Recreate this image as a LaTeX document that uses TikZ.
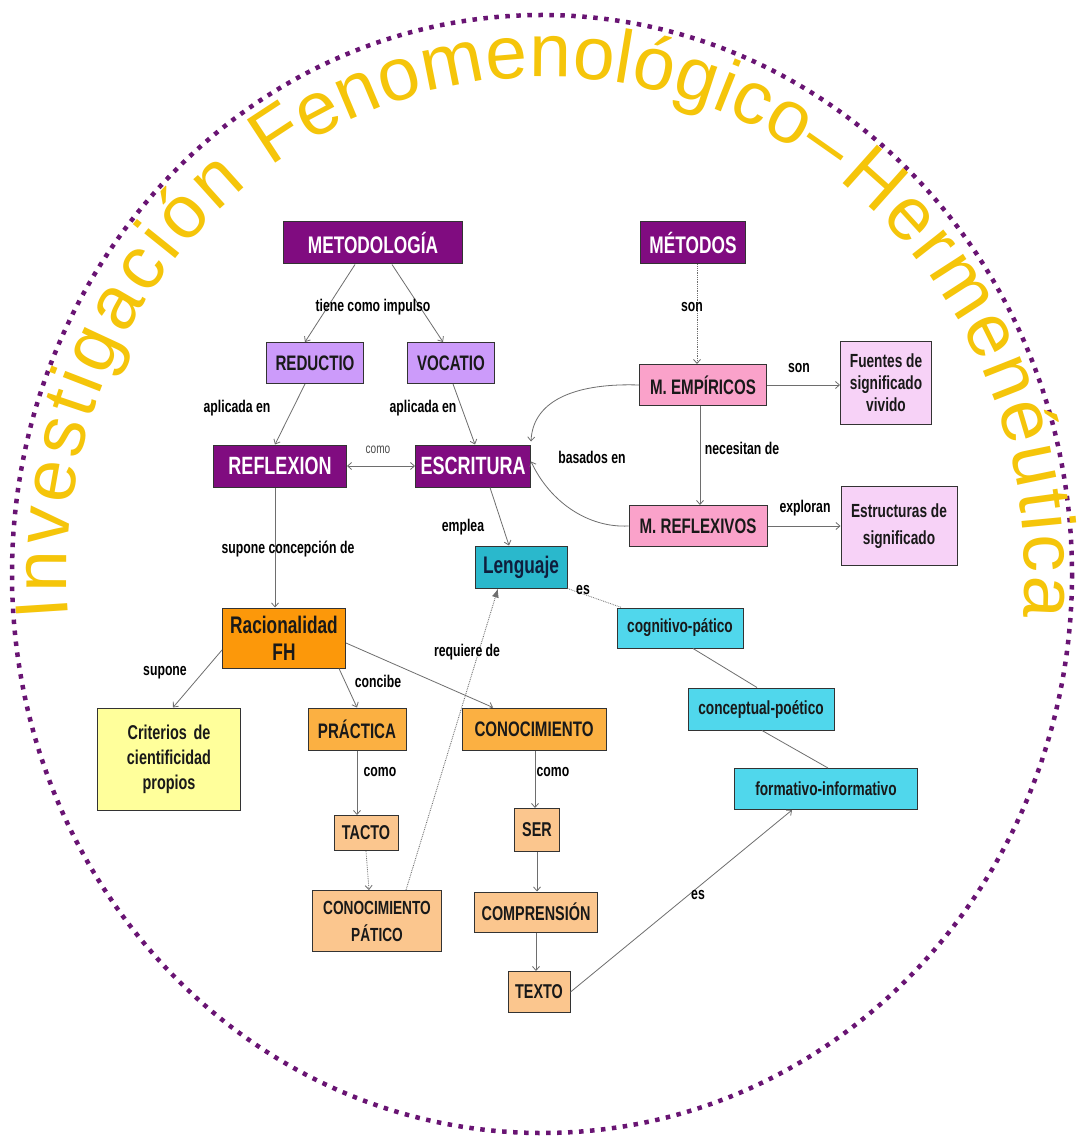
\documentclass[tikz,border=0pt]{standalone}
\usepackage{fontspec}
\setmainfont{Liberation Sans}
\newfontfamily\cond[FakeStretch=0.72]{Liberation Sans}
\newfontfamily\tfont{Liberation Sans}
\usetikzlibrary{arrows.meta,decorations.text}
\definecolor{mpurple}{RGB}{128,12,128}
\definecolor{lav}{RGB}{204,155,250}
\definecolor{mpink}{RGB}{250,162,202}
\definecolor{lpink}{RGB}{247,210,247}
\definecolor{teal}{RGB}{42,184,204}
\definecolor{lcyan}{RGB}{80,215,236}
\definecolor{orng}{RGB}{252,152,10}
\definecolor{lorng}{RGB}{251,176,66}
\definecolor{peach}{RGB}{251,198,142}
\definecolor{lyel}{RGB}{255,255,155}
\definecolor{titley}{RGB}{245,197,10}
\definecolor{dotc}{RGB}{105,20,115}
\definecolor{linec}{RGB}{110,110,110}
\newcommand\fsz[2]{\fontsize{#1}{#2}\selectfont}
\begin{document}
\begin{tikzpicture}[x=1pt,y=-1pt,
  box/.style={draw=black!80, line width=1pt, inner sep=1pt, align=center, text=black!90},
  purp/.style={box, fill=mpurple, text=white},
  lavb/.style={box, fill=lav},
  pinkb/.style={box, fill=mpink},
  lpinkb/.style={box, fill=lpink},
  tealb/.style={box, fill=teal, text={rgb,255:red,15;green,30;blue,60}},
  cyanb/.style={box, fill=lcyan},
  orb/.style={box, fill=orng},
  lorb/.style={box, fill=lorng},
  peachb/.style={box, fill=peach},
  yelb/.style={box, fill=lyel},
  lab/.style={font=\cond\bfseries\fsz{17}{19}, text=black, inner sep=1pt},
  conn/.style={draw=linec, line width=0.8pt},
  arr/.style={conn, -{Straight Barb[length=4pt,width=7pt]}},
  dotarr/.style={arr, densely dotted},
  titlearc/.style={decorate, decoration={text along path, text color=titley,
     text={|\tfont\fsz{75}{75}|#1}, text align=fit to path}}
]
\useasboundingbox (0,0) rectangle (1076,1139);
\fill[white] (0,0) rectangle (1076,1139);

% dotted frame
\draw[dotc, line width=4.5pt, dash pattern=on 4.5pt off 6.5pt] (542,574) ellipse [x radius=530, y radius=559];

% title along arc
\path[titlearc={Investigación}]
   ([shift={(175:479 and 497)}]546,574) arc[start angle=175, end angle=231.5, x radius=479, y radius=497];
\path[titlearc={Fenomenológico–}]
   ([shift={(235:479 and 497)}]546,574) arc[start angle=235, end angle=306.5, x radius=479, y radius=497];
\path[titlearc={Hermenéutica}]
   ([shift={(307.5:479 and 497)}]546,574) arc[start angle=307.5, end angle=365, x radius=479, y radius=497];

% nodes
\node[purp, minimum width=179, minimum height=42, font=\cond\bfseries\fsz{24}{26}] (meto) at (373,243) {METODOLOGÍA};
\node[purp, minimum width=105, minimum height=42, font=\cond\bfseries\fsz{24}{26}] (metodos) at (693,243) {MÉTODOS};
\node[lavb, minimum width=97, minimum height=41, font=\cond\bfseries\fsz{21}{23}] (reductio) at (315,363) {REDUCTIO};
\node[lavb, minimum width=87, minimum height=41, font=\cond\bfseries\fsz{21}{23}] (vocatio) at (451,363) {VOCATIO};
\node[purp, minimum width=133, minimum height=42, font=\cond\bfseries\fsz{25}{27}] (reflexion) at (280,466) {REFLEXION};
\node[purp, minimum width=115, minimum height=42, font=\cond\bfseries\fsz{25}{27}] (escritura) at (473,466) {ESCRITURA};
\node[pinkb, minimum width=127, minimum height=41, font=\cond\bfseries\fsz{21}{23}] (emp) at (703,385) {M. EMPÍRICOS};
\node[lpinkb, minimum width=91, minimum height=83, font=\cond\bfseries\fsz{19}{22}] (fuentes) at (886,383) {Fuentes de\\significado\\vivido};
\node[pinkb, minimum width=138, minimum height=41, font=\cond\bfseries\fsz{21}{23}] (refl) at (698,526) {M. REFLEXIVOS};
\node[lpinkb, minimum width=116, minimum height=79, font=\cond\bfseries\fsz{19}{27}] (estr) at (899,526) {Estructuras de\\significado};
\node[tealb, minimum width=92, minimum height=42, font=\cond\bfseries\fsz{24}{26}] (leng) at (521,567) {Lenguaje};
\node[cyanb, minimum width=126, minimum height=40, font=\cond\bfseries\fsz{19}{21}] (cog) at (680,628) {cognitivo-pático};
\node[cyanb, minimum width=146, minimum height=42, font=\cond\bfseries\fsz{19}{21}] (concep) at (761,709) {conceptual-poético};
\node[cyanb, minimum width=183, minimum height=41, font=\cond\bfseries\fsz{19}{21}] (form) at (826,789) {formativo-informativo};
\node[orb, minimum width=123, minimum height=60, font=\cond\bfseries\fsz{24}{27}] (racio) at (284,638) {Racionalidad\\FH};
\node[yelb, minimum width=143, minimum height=102, font=\cond\bfseries\fsz{20}{25}] (crit) at (169,759) {Criterios\,\,de\\cientificidad\\propios};
\node[lorb, minimum width=98, minimum height=42, font=\cond\bfseries\fsz{21}{23}] (prac) at (357,729) {PRÁCTICA};
\node[lorb, minimum width=144, minimum height=42, font=\cond\bfseries\fsz{21}{23}] (conoc) at (534,729) {CONOCIMIENTO};
\node[peachb, minimum width=64, minimum height=35, font=\cond\bfseries\fsz{20}{22}] (tacto) at (366,833) {TACTO};
\node[peachb, minimum width=129, minimum height=61, font=\cond\bfseries\fsz{19}{27}] (cpat) at (377,921) {CONOCIMIENTO\\PÁTICO};
\node[peachb, minimum width=45, minimum height=43, font=\cond\bfseries\fsz{20}{22}] (ser) at (537,830) {SER};
\node[peachb, minimum width=123, minimum height=40, font=\cond\bfseries\fsz{20}{22}] (compr) at (536,912) {COMPRENSIÓN};
\node[peachb, minimum width=62, minimum height=41, font=\cond\bfseries\fsz{20}{22}] (texto) at (539,992) {TEXTO};

% connectors
\draw[arr] ([xshift=-18]meto.south) -- ([xshift=-10]reductio.north);
\draw[arr] ([xshift=19]meto.south) -- ([xshift=-8]vocatio.north);
\node[lab] (l1) at (373,307) {tiene como impulso};

\draw[arr] ([xshift=-10]reductio.south) -- ([xshift=-5]reflexion.north);
\node[lab] (l2) at (237,408) {aplicada en};
\draw[arr] ([xshift=2]vocatio.south) -- ([xshift=2]escritura.north);
\node[lab] (l3) at (423,408) {aplicada en};

\draw[conn, {Straight Barb[length=4pt,width=7pt]}-{Straight Barb[length=4pt,width=7pt]}] (reflexion.east) -- (escritura.west);
\node[font=\cond\fsz{14}{16}, text=black!70, inner sep=1pt] (l4) at (378,450) {como};

\draw[dotarr] ([xshift=4]metodos.south) -- ([xshift=-6]emp.north);
\node[lab] (l5) at (692,307) {son};

\draw[arr] (emp.east) -- (emp.east -| fuentes.west);
\node[lab] (l6) at (799,368) {son};

\draw[arr] ([xshift=-3]emp.south) -- ([xshift=2]refl.north);
\node[lab] (l7) at (742,448) {necesitan de};

\draw[arr] (emp.west) .. controls (580,383) and (533,398) .. ([yshift=3]escritura.north east);
\draw[arr] (refl.west) .. controls (588,528) and (550,502) .. ([yshift=-17]escritura.north east);
\node[lab] (l8) at (592,457) {basados en};

\draw[arr] (refl.east) -- (refl.east -| estr.west);
\node[lab] (l9) at (805,508) {exploran};

\draw[arr] ([xshift=17]escritura.south) -- ([xshift=-12]leng.north);
\node[lab] (l10) at (463,527) {emplea};

\draw[arr] ([xshift=-5]reflexion.south) -- ([xshift=-9]racio.north);
\node[lab] (l11) at (288,549) {supone concepción de};

\draw[arr] ([yshift=-12]racio.west) -- ([xshift=4]crit.north);
\node[lab] (l12) at (165,673) {supone};

\draw[arr] ([xshift=55]racio.south) -- (prac.north);
\node[lab] (l13) at (378,681) {concibe};

\draw[arr] ([yshift=-5]racio.east) -- ([xshift=-41]conoc.north);

\draw[arr] (prac.south) -- ([xshift=-9]tacto.north);
\node[lab] (l14) at (380,772) {como};

\draw[dotarr] (tacto.south) -- ([xshift=-8]cpat.north);

\draw[conn, densely dotted, -{Latex[length=9pt,width=7pt]}, line width=0.9pt] ([xshift=29]cpat.north) -- ([xshift=-23]leng.south);
\node[lab] (l15) at (467,652) {requiere de};

\draw[arr] ([xshift=1]conoc.south) -- ([xshift=-2]ser.north);
\node[lab] (l16) at (553,772) {como};

\draw[arr] (ser.south) -- ([xshift=1]compr.north);
\draw[arr] (compr.south) -- ([xshift=-3]texto.north);

\draw[arr] (texto.east) -- ([xshift=-34]form.south);
\node[lab] (l17) at (698,895) {es};

\draw[conn, densely dotted] (leng.south east) -- ([xshift=5]cog.north west);
\node[lab] (l18) at (583,590) {es};

\draw[conn] ([xshift=13]cog.south) -- ([xshift=-4]concep.north);
\draw[conn] ([xshift=1]concep.south) -- ([xshift=2]form.north);
\end{tikzpicture}
\end{document}
